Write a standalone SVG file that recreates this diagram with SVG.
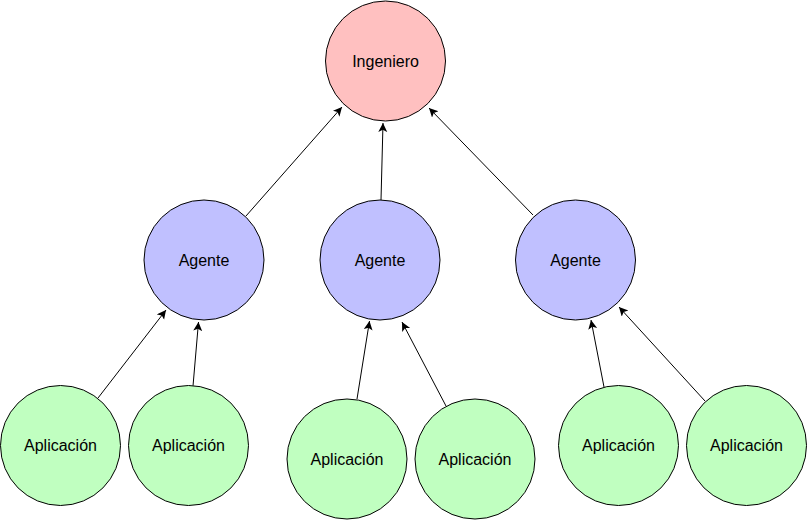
<svg xmlns="http://www.w3.org/2000/svg" width="808" height="520" viewBox="0 0 808 520">
<style>
.n{stroke:#000;stroke-width:1}
.ing{fill:#FFC0C0}
.ag{fill:#C0C0FF}
.ap{fill:#C0FFC0}
text{font-family:"Liberation Sans",Arial,Helvetica,sans-serif;font-size:16px;fill:#000;text-anchor:middle}
.e{stroke:#000;stroke-width:1;fill:none;marker-end:url(#arr)}
</style>
<defs>
<marker id="arr" markerUnits="userSpaceOnUse" markerWidth="12" markerHeight="12" refX="9" refY="4.5" orient="auto">
<path d="M0,0 L9,4.5 L0,9 L2.2,4.5 Z" fill="#000"/>
</marker>
</defs>
<g id="connectors">
<line class="e" x1="246" y1="216" x2="342" y2="107"/>
<line class="e" x1="381" y1="200" x2="383" y2="123"/>
<line class="e" x1="533" y1="215" x2="429" y2="108"/>
<line class="e" x1="98" y1="398" x2="166" y2="310"/>
<line class="e" x1="193" y1="386" x2="198.5" y2="322"/>
<line class="e" x1="357" y1="399" x2="369.5" y2="321"/>
<line class="e" x1="446" y1="406" x2="402" y2="322"/>
<line class="e" x1="604" y1="387" x2="591" y2="320"/>
<line class="e" x1="705" y1="401" x2="619" y2="307"/>
</g>
<g id="ingeniero"><circle class="n ing" cx="385.5" cy="61" r="60"/><text x="385.5" y="66.5">Ingeniero</text></g>
<g id="agente1"><circle class="n ag" cx="204" cy="260" r="60"/><text x="204" y="265.5">Agente</text></g>
<g id="agente2"><circle class="n ag" cx="380" cy="260" r="60"/><text x="380" y="265.5">Agente</text></g>
<g id="agente3"><circle class="n ag" cx="575.5" cy="260" r="60"/><text x="575.5" y="265.5">Agente</text></g>
<g id="aplicacion1"><circle class="n ap" cx="60.5" cy="445.5" r="60"/><text x="60.5" y="451">Aplicación</text></g>
<g id="aplicacion2"><circle class="n ap" cx="188.5" cy="445.5" r="60"/><text x="188.5" y="451">Aplicación</text></g>
<g id="aplicacion3"><circle class="n ap" cx="347" cy="459" r="60"/><text x="347" y="464.5">Aplicación</text></g>
<g id="aplicacion4"><circle class="n ap" cx="475" cy="459" r="60"/><text x="475" y="464.5">Aplicación</text></g>
<g id="aplicacion5"><circle class="n ap" cx="618.5" cy="445.5" r="60"/><text x="618.5" y="451">Aplicación</text></g>
<g id="aplicacion6"><circle class="n ap" cx="746.5" cy="445.5" r="60"/><text x="746.5" y="451">Aplicación</text></g>
</svg>
